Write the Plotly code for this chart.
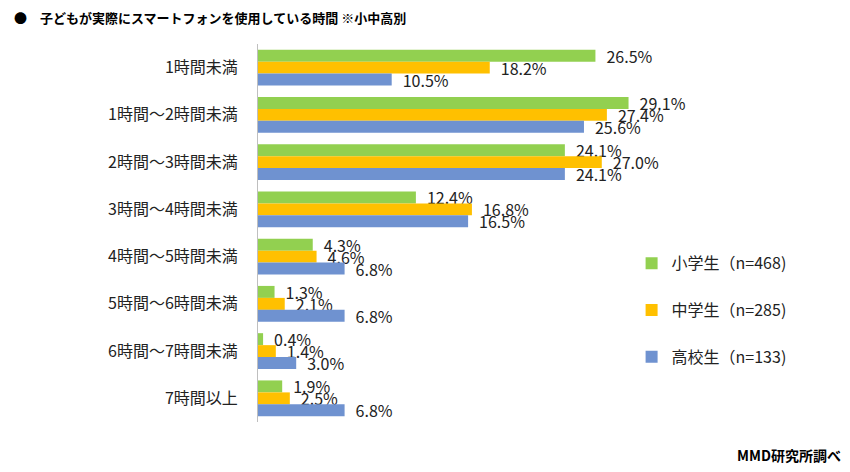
import plotly.graph_objects as go

categories = ["1時間未満", "1時間～2時間未満", "2時間～3時間未満", "3時間～4時間未満",
              "4時間～5時間未満", "5時間～6時間未満", "6時間～7時間未満", "7時間以上"]
series_names = ["小学生（n=468)", "中学生（n=285)", "高校生（n=133)"]
elementary = [26.5, 29.1, 24.1, 12.4, 4.3, 1.3, 0.4, 1.9]
junior_high = [18.2, 27.4, 27.0, 16.8, 4.6, 2.1, 1.4, 2.5]
high_school = [10.5, 25.6, 24.1, 16.5, 6.8, 6.8, 3.0, 6.8]
colors = ["#92D050", "#FFC000", "#6F92D0"]

FONT = "Noto Sans CJK JP, Meiryo, sans-serif"

fig = go.Figure()
for name, vals, col in zip(series_names, [elementary, junior_high, high_school], colors):
    fig.add_trace(go.Bar(
        y=categories, x=vals, name=name, orientation="h",
        marker=dict(color=col, line=dict(width=0)),
        text=[f"\u2002{v:.1f}%" for v in vals], textposition="outside",
        textfont=dict(size=16, color="#222", family=FONT),
        constraintext="none", cliponaxis=False,
        legendgroup=name,
    ))

fig.update_layout(
    width=850, height=472,
    margin=dict(l=258, r=210, t=44, b=50),
    paper_bgcolor="white", plot_bgcolor="white",
    barmode="group", bargap=0.24, bargroupgap=0,
    font=dict(family=FONT, size=15, color="#222"),
    xaxis=dict(range=[0, 30], visible=False, showgrid=False, zeroline=False),
    yaxis=dict(autorange="reversed", showgrid=False, zeroline=False,
               showline=True, linecolor="#BFBFBF", linewidth=1,
               ticks="", ticklabelstandoff=16, automargin=False,
               tickfont=dict(size=16, color="#222", family=FONT)),
    showlegend=True,
    legend=dict(x=0.978, xanchor="left", y=0.465, yanchor="top",
                traceorder="grouped", tracegroupgap=23,
                font=dict(size=16, color="#222", family=FONT),
                itemwidth=30, bgcolor="rgba(0,0,0,0)"),
    annotations=[
        dict(text="<b>●　子どもが実際にスマートフォンを使用している時間 ※小中高別</b>",
             xref="paper", yref="paper", x=-246/382, y=1 + (44-17)/378,
             xanchor="left", yanchor="middle", showarrow=False,
             font=dict(size=13, color="#000", family=FONT)),
        dict(text="<b>MMD研究所調べ</b>",
             xref="paper", yref="paper", x=1 + (843-640)/382, y=-(455-422)/378,
             xanchor="right", yanchor="middle", showarrow=False,
             font=dict(size=14, color="#000", family=FONT)),
    ],
)

fig.write_html("out.html", config={"displayModeBar": False},
               post_script="document.body.style.margin='0';")
